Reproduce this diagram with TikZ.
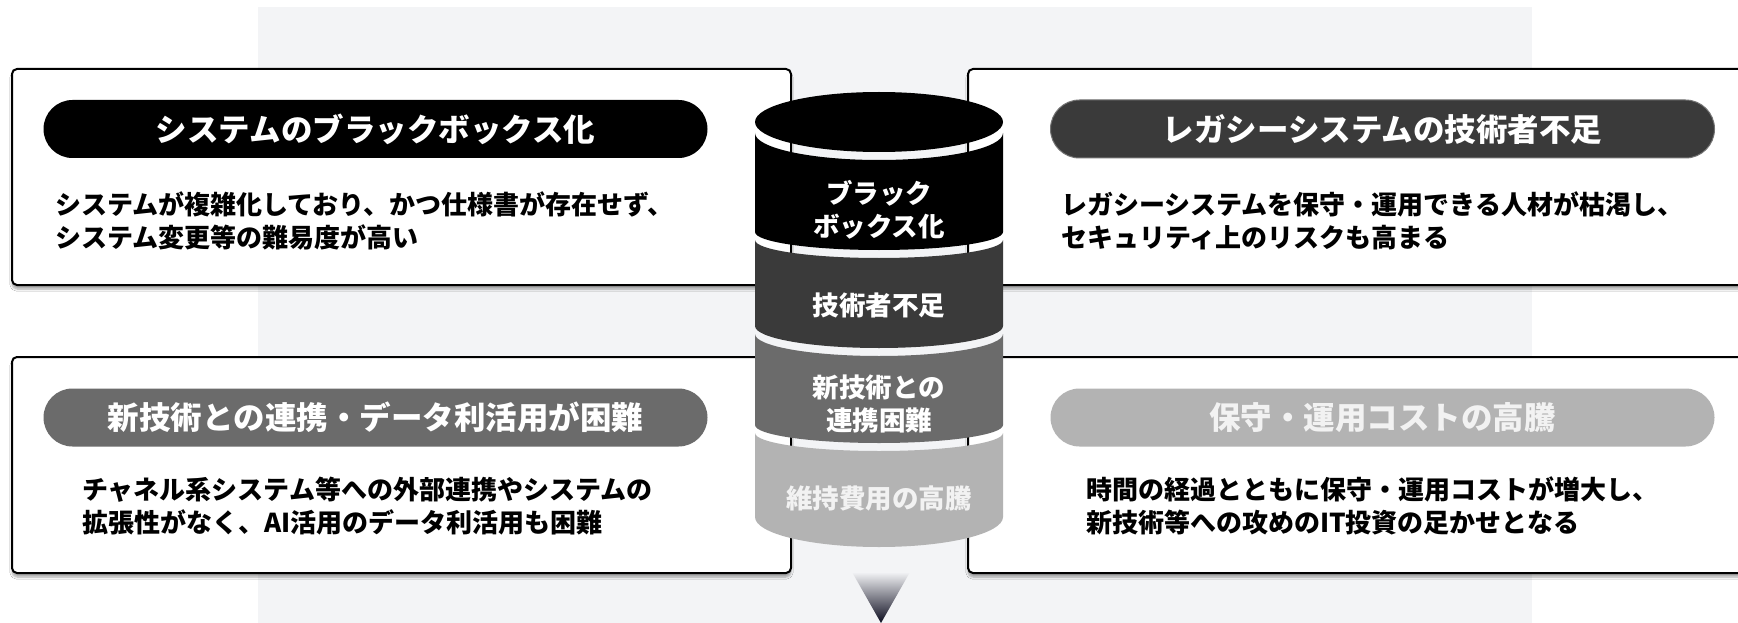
\documentclass[tikz,border=0pt]{standalone}
\usepackage{fontspec}
\setmainfont{Noto Sans CJK JP}
\usetikzlibrary{shadows.blur}
\definecolor{bg}{HTML}{F3F4F6}
\definecolor{cA}{HTML}{000000}
\definecolor{cB}{HTML}{3A3A3A}
\definecolor{cC}{HTML}{6B6B6B}
\definecolor{cD}{HTML}{B3B3B3}
\definecolor{navy}{HTML}{0B0B1E}
\definecolor{lighttext}{HTML}{F2F2F2}
\newcommand\cylband[5]{%
  \fill[#1] (755,#2) arc[start angle=180,end angle=0,x radius=124,y radius=#3]
    -- (1003,#4) arc[start angle=0,end angle=180,x radius=124,y radius=#5] -- cycle;}
\begin{document}
\begin{tikzpicture}[x=1pt,y=-1pt,
  card/.style={draw=black, line width=2pt, rounded corners=5pt, fill=white, inner sep=0pt,
    blur shadow={shadow xshift=0pt, shadow yshift=-4pt, shadow blur steps=6, shadow opacity=35}},
  pill/.style={rounded corners=29pt, minimum height=58pt, minimum width=664pt, inner sep=0pt,
    text=white, font=\fontsize{31.5}{36}\selectfont\bfseries},
  body/.style={anchor=west, align=left, inner sep=0pt, font=\fontsize{26}{33}\selectfont\bfseries},
  cyl/.style={text=white, align=center, inner sep=0pt, font=\fontsize{26.5}{33}\selectfont\bfseries},
]
\path[use as bounding box] (0,0) rectangle (1738,623);
\clip (0,0) rectangle (1738,623);
\fill[white] (0,0) rectangle (1738,623);
\fill[bg] (258,7) rectangle (1532,630);

% cards
\node[card, minimum width=779pt, minimum height=216pt] (c1) at (401.5,177) {};
\node[card, minimum width=792pt, minimum height=216pt] (c2) at (1364,177) {};
\node[card, minimum width=779pt, minimum height=216pt] (c3) at (401.5,465) {};
\node[card, minimum width=792pt, minimum height=216pt] (c4) at (1364,465) {};

% pills
\node[pill, fill=cA] (p1) at (375.5,129) {システムのブラックボックス化};
\node[pill, fill=cB, draw=black!55, line width=1pt] (p2) at (1382.5,129) {レガシーシステムの技術者不足};
\node[pill, fill=cC] (p3) at (375.5,417.5) {新技術との連携・データ利活用が困難};
\node[pill, fill=cD, text=lighttext] (p4) at (1382.5,417.5) {保守・運用コストの高騰};

% body texts
\node[body] (t1) at (55,221) {システムが複雑化しており、かつ仕様書が存在せず、\\システム変更等の難易度が高い};
\node[body] (t2) at (1061,221) {レガシーシステムを保守・運用できる人材が枯渇し、\\セキュリティ上のリスクも高まる};
\node[body] (t3) at (82,506) {チャネル系システム等への外部連携やシステムの\\拡張性がなく、AI活用のデータ利活用も困難};
\node[body] (t4) at (1086,506) {時間の経過とともに保守・運用コストが増大し、\\新技術等への攻めのIT投資の足かせとなる};

% cylinder
\fill[cA] (879,122) ellipse[x radius=124,y radius=30];
\cylband{cA}{133}{27}{232}{18}
\cylband{cB}{240}{18}{326}{22}
\cylband{cC}{334}{22}{425}{18}
\cylband{cD}{433}{18}{517}{30}
\node[cyl] (b1) at (879,210) {ブラック\\ボックス化};
\node[cyl] (b2) at (879,305) {技術者不足};
\node[cyl] (b3) at (879,404) {新技術との\\連携困難};
\node[cyl, text=lighttext] (b4) at (879,498) {維持費用の高騰};

% arrow triangle
\shade[top color=bg, middle color=navy!80, bottom color=navy] (852,572) -- (910,572) -- (881,623) -- cycle;
\end{tikzpicture}
\end{document}
